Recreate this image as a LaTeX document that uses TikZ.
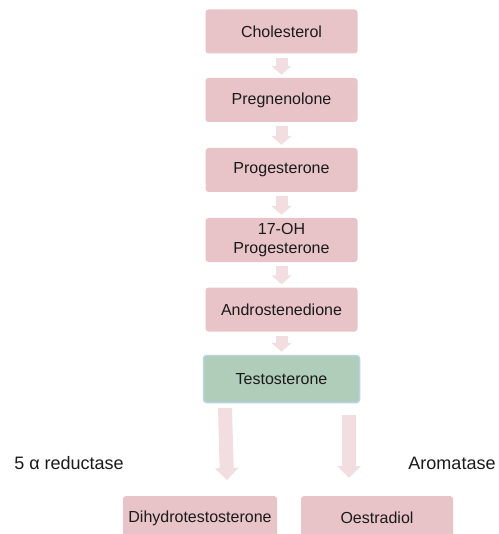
\documentclass[tikz,border=0pt]{standalone}
\usepackage{fontspec}
\setmainfont{Liberation Sans}
\usepackage{tikz}
\usetikzlibrary{arrows.meta}

\definecolor{boxpink}{RGB}{232,196,200}
\definecolor{arrowpink}{RGB}{242,221,224}
\definecolor{boxgreen}{RGB}{176,205,186}
\definecolor{edgeblue}{RGB}{184,212,228}
\definecolor{textgray}{RGB}{26,26,26}

\tikzset{
  stepbox/.style={fill=boxpink, rounded corners=3pt, minimum width=152pt,
    minimum height=44pt, inner sep=2pt, align=center, text=textgray,
    font=\fontsize{16}{19}\selectfont},
  mainbox/.style={stepbox, fill=boxgreen, draw=edgeblue, line width=1.5pt,
    minimum width=156pt, minimum height=47pt},
  smallarrow/.style={draw=arrowpink, line width=12pt,
    -{Triangle[width=20pt,length=9pt,fill=arrowpink]},
    shorten <=4pt, shorten >=3pt},
  bigarrow/.style={draw=arrowpink, line width=14pt,
    -{Triangle[width=23pt,length=12pt,fill=arrowpink]}},
  enzyme/.style={text=textgray, font=\fontsize{18}{20}\selectfont}
}

\begin{document}
\begin{tikzpicture}[x=1pt,y=-1pt]

  \useasboundingbox (0,0) rectangle (498,534);
  \clip (0,0) rectangle (498,534);

  % pathway boxes
  \node[stepbox] (chol) at (281.5,31.5) {Cholesterol};
  \node[stepbox] (preg) at (281.5,100) {Pregnenolone};
  \node[stepbox] (prog) at (281.5,170) {Progesterone};
  \node[stepbox] (ohprog) at (281.5,240) {17-OH\\Progesterone};
  \node[stepbox] (andro) at (281.5,309.5) {Androstenedione};
  \node[mainbox] (testo) at (281.5,379) {Testosterone};

  % products
  \node[stepbox, minimum width=154pt] (dht) at (200,518) {Dihydrotestosterone};
  \node[stepbox] (oest) at (377,518) {Oestradiol};

  % enzymes
  \node[enzyme] (reduct) at (69,463) {5 α reductase};
  \node[enzyme] (aromat) at (452,463) {Aromatase};

  % small arrows
  \draw[smallarrow] (chol) -- (preg);
  \draw[smallarrow] (preg) -- (prog);
  \draw[smallarrow] (prog) -- (ohprog);
  \draw[smallarrow] (ohprog) -- (andro);
  \draw[smallarrow] (andro) -- (testo);

  % big arrows
  \coordinate (dhtFrom) at (225,408);
  \coordinate (dhtTo) at (227,480);
  \coordinate (oestFrom) at (349,415);
  \coordinate (oestTo) at (349,478);
  \draw[bigarrow] (dhtFrom) -- (dhtTo);
  \draw[bigarrow] (oestFrom) -- (oestTo);

\end{tikzpicture}
\end{document}
